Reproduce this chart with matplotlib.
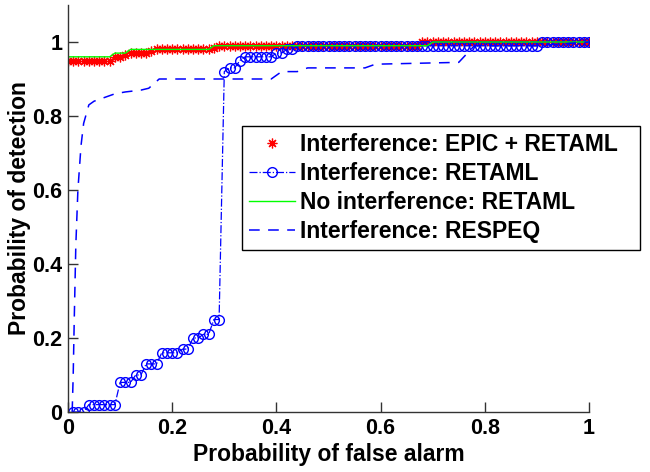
import matplotlib
matplotlib.use("Agg")
import matplotlib.pyplot as plt

plt.rcParams['font.family'] = ['Liberation Sans', 'DejaVu Sans']
plt.rcParams['font.weight'] = 'bold'

# Interference: EPIC + RETAML (red stars)
epic_x = [0.00, 0.01, 0.02, 0.03, 0.04, 0.05, 0.06, 0.07, 0.08,
          0.09, 0.10, 0.11,
          0.12, 0.13, 0.14, 0.15, 0.16,
          0.17, 0.18, 0.19, 0.20, 0.21, 0.22, 0.23, 0.24, 0.25, 0.26, 0.27, 0.28,
          0.29, 0.30, 0.31, 0.32, 0.33, 0.34, 0.35, 0.36, 0.37, 0.38, 0.39,
          0.40, 0.41, 0.42, 0.43, 0.44, 0.45, 0.46, 0.47, 0.48, 0.49,
          0.50, 0.51, 0.52, 0.53, 0.54, 0.55, 0.56, 0.57, 0.58, 0.59,
          0.60, 0.61, 0.62, 0.63, 0.64, 0.65, 0.66, 0.67,
          0.68, 0.69, 0.70, 0.71, 0.72, 0.73, 0.74, 0.75, 0.76, 0.77, 0.78, 0.79,
          0.80, 0.81, 0.82, 0.83, 0.84, 0.85, 0.86, 0.87, 0.88, 0.89,
          0.90, 0.91, 0.92, 0.93, 0.94, 0.95, 0.96, 0.97, 0.98, 0.99, 1.00]
epic_y = [0.95, 0.95, 0.95, 0.95, 0.95, 0.95, 0.95, 0.95, 0.95,
          0.96, 0.96, 0.965,
          0.97, 0.97, 0.97, 0.97, 0.975,
          0.98, 0.98, 0.98, 0.98, 0.98, 0.98, 0.98, 0.98, 0.98, 0.98, 0.98, 0.985,
          0.99, 0.99, 0.99, 0.99, 0.99, 0.99, 0.99, 0.99, 0.99, 0.99, 0.99,
          0.99, 0.99, 0.99, 0.99, 0.99, 0.99, 0.99, 0.99, 0.99, 0.99,
          0.99, 0.99, 0.99, 0.99, 0.99, 0.99, 0.99, 0.99, 0.99, 0.99,
          0.99, 0.99, 0.99, 0.99, 0.99, 0.99, 0.99, 0.99,
          1.00, 1.00, 1.00, 1.00, 1.00, 1.00, 1.00, 1.00, 1.00, 1.00, 1.00, 1.00,
          1.00, 1.00, 1.00, 1.00, 1.00, 1.00, 1.00, 1.00, 1.00, 1.00,
          1.00, 1.00, 1.00, 1.00, 1.00, 1.00, 1.00, 1.00, 1.00, 1.00, 1.00]

# Interference: RETAML (blue circles)
ret_x = [0.01, 0.02, 0.03,
         0.04, 0.05, 0.06, 0.07, 0.08, 0.09,
         0.10, 0.11, 0.12,
         0.13, 0.14,
         0.15, 0.16, 0.17,
         0.18, 0.19, 0.20, 0.21,
         0.22, 0.23,
         0.24, 0.25,
         0.26, 0.27,
         0.28, 0.29,
         0.30,
         0.31, 0.32,
         0.33,
         0.34, 0.35, 0.36, 0.37, 0.38, 0.39,
         0.40, 0.41,
         0.42, 0.43,
         0.44, 0.45, 0.46, 0.47, 0.48, 0.49, 0.50, 0.51, 0.52, 0.53, 0.54,
         0.55, 0.56, 0.57, 0.58, 0.59, 0.60, 0.61, 0.62, 0.63, 0.64, 0.65,
         0.66, 0.67, 0.68, 0.69, 0.70, 0.71, 0.72, 0.73, 0.74, 0.75, 0.76,
         0.77, 0.78, 0.79, 0.80, 0.81, 0.82, 0.83, 0.84, 0.85, 0.86, 0.87,
         0.88, 0.89, 0.90,
         0.91, 0.92, 0.93, 0.94, 0.95, 0.96, 0.97, 0.98, 0.99, 1.00]
ret_y = [0.0, 0.0, 0.0,
         0.02, 0.02, 0.02, 0.02, 0.02, 0.02,
         0.08, 0.08, 0.08,
         0.10, 0.10,
         0.13, 0.13, 0.13,
         0.16, 0.16, 0.16, 0.16,
         0.17, 0.17,
         0.20, 0.20,
         0.21, 0.21,
         0.25, 0.25,
         0.92,
         0.93, 0.93,
         0.95,
         0.96, 0.96, 0.96, 0.96, 0.96, 0.96,
         0.97, 0.97,
         0.98, 0.98,
         0.99, 0.99, 0.99, 0.99, 0.99, 0.99, 0.99, 0.99, 0.99, 0.99, 0.99,
         0.99, 0.99, 0.99, 0.99, 0.99, 0.99, 0.99, 0.99, 0.99, 0.99, 0.99,
         0.99, 0.99, 0.99, 0.99, 0.99, 0.99, 0.99, 0.99, 0.99, 0.99, 0.99,
         0.99, 0.99, 0.99, 0.99, 0.99, 0.99, 0.99, 0.99, 0.99, 0.99, 0.99,
         0.99, 0.99, 0.99,
         1.00, 1.00, 1.00, 1.00, 1.00, 1.00, 1.00, 1.00, 1.00, 1.00]

# No interference: RETAML (green line)
noint_x = [0.00, 0.08, 0.09, 0.11, 0.12, 0.27, 0.28, 0.69, 0.70, 1.00]
noint_y = [0.96, 0.96, 0.97, 0.97, 0.98, 0.98, 0.99, 0.99, 1.00, 1.00]

# Interference: RESPEQ (blue dashed)
respeq_x = [0.008, 0.010, 0.012, 0.015, 0.019, 0.025, 0.030, 0.040, 0.050,
            0.070, 0.090, 0.110, 0.140, 0.155, 0.175, 0.300, 0.390, 0.410,
            0.440, 0.460, 0.570, 0.590, 0.750, 0.780, 0.900, 1.000]
respeq_y = [0.00, 0.10, 0.25, 0.45, 0.60, 0.72, 0.78, 0.83, 0.84,
            0.85, 0.86, 0.865, 0.87, 0.875, 0.90, 0.90, 0.90, 0.92,
            0.92, 0.93, 0.93, 0.94, 0.945, 0.99, 0.99, 1.00]

labels = ['Interference: EPIC + RETAML', 'Interference: RETAML',
          'No interference: RETAML', 'Interference: RESPEQ']
x_ticks = [0, 0.2, 0.4, 0.6, 0.8, 1]
y_ticks = [0, 0.2, 0.4, 0.6, 0.8, 1]
tick_labels = ['0', '0.2', '0.4', '0.6', '0.8', '1']

fig = plt.figure(figsize=(6.5, 4.72), dpi=100)
ax = fig.add_axes([68/650, 1 - 412/472, (589 - 68)/650, (412 - 5)/472])

ax.plot(epic_x, epic_y, linestyle='none', marker=(8, 2, 0), color=(1, 0, 0),
        markersize=7, markeredgewidth=0.9, label=labels[0])
ax.plot(ret_x, ret_y, linestyle='-.', linewidth=0.9, color=(0, 0, 1),
        marker='o', markersize=7, markerfacecolor='none', markeredgewidth=1.0,
        label=labels[1])
ax.plot(noint_x, noint_y, linestyle='-', linewidth=1.0, color=(0, 1, 0),
        label=labels[2])
ax.plot(respeq_x, respeq_y, linestyle=(0, (7, 5.5)), linewidth=1.1,
        color=(0, 0, 1), label=labels[3])

ax.set_xlim(0, 1)
ax.set_ylim(0, 1.1)
ax.set_xticks(x_ticks)
ax.set_xticklabels(tick_labels)
ax.set_yticks(y_ticks)
ax.set_yticklabels(tick_labels)
ax.spines['top'].set_visible(False)
ax.spines['right'].set_visible(False)
for s in ('left', 'bottom'):
    ax.spines[s].set_linewidth(1.0)
    ax.spines[s].set_color('#333333')
ax.tick_params(direction='in', length=7, width=1.0, labelsize=15.5, pad=4,
               color='#333333')
for lab in ax.get_xticklabels() + ax.get_yticklabels():
    lab.set_fontweight('bold')

ax.set_xlabel('Probability of false alarm', fontsize=16.5, fontweight='bold',
              labelpad=3)
ax.set_ylabel('Probability of detection', fontsize=16.5, fontweight='bold',
              labelpad=1)

leg = ax.legend(loc='upper left',
                bbox_to_anchor=(242/650, 1 - 247/472, 398/650, 121/472),
                bbox_transform=fig.transFigure, borderaxespad=0, mode='expand',
                prop={'size': 16.5, 'weight': 'bold'}, frameon=True,
                fancybox=False, framealpha=1, edgecolor='black',
                handlelength=2.0, handletextpad=0.25, labelspacing=0.27,
                borderpad=0.3, numpoints=1)
leg.get_frame().set_linewidth(1.0)

fig.savefig('out.png', dpi=100)
